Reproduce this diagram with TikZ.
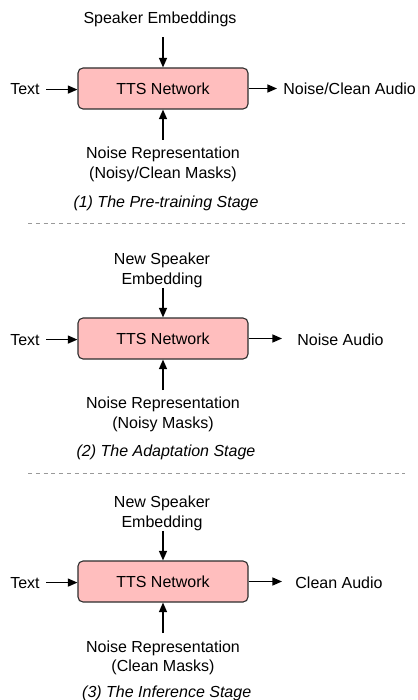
\documentclass[tikz,border=0pt]{standalone}
\usepackage{fontspec}
\setmainfont{Liberation Sans}
\usetikzlibrary{arrows.meta,calc}
\definecolor{netfill}{RGB}{255,190,190}
\definecolor{netdraw}{RGB}{45,45,45}

\begin{document}
\begin{tikzpicture}[
  x=0.5pt,y=-0.5pt,
  font=\fontsize{8}{9.75}\selectfont,
  net/.style={draw=netdraw,fill=netfill,rounded corners=2.5pt,line width=0.55pt,
    minimum width=85pt,minimum height=20.5pt,inner sep=0pt},
  lbl/.style={inner sep=0pt,align=center},
  stagecap/.style={inner sep=0pt,font=\fontsize{8}{9.75}\selectfont\itshape},
  sig/.style={-{Triangle[length=4.8pt,width=4pt]},line width=0.7pt},
  sep/.style={draw=black!40,dash pattern=on 2pt off 1.9pt,line width=0.5pt},
]
\useasboundingbox (0,0) rectangle (417,700);

%% (1) pre-training
\node[net] (net1) at (163,88.5) {TTS Network};
\node[lbl,anchor=base] (spk1) at (160,23.3) {Speaker Embeddings};
\node[lbl,anchor=base east] (txt1) at (40,95) {Text};
\node[lbl,anchor=base west] (out1) at (283,95) {Noise/Clean Audio};
\node[lbl,anchor=north] (noise1) at (163,147) {Noise Representation\\(Noisy/Clean Masks)};
\node[stagecap,anchor=base] (cap1) at (166,207.6) {(1) The Pre-training Stage};
\draw[sig,shorten <=5.2pt] (spk1.south -| net1.north) -- (net1.north);
\draw[sig,shorten <=3pt] (txt1.east) -- (txt1.east -| net1.west);
\draw[sig,shorten >=3pt] (net1.east) -- (net1.east -| out1.west);
\draw[sig,shorten <=3.5pt] (noise1.north -| net1.south) -- (net1.south);
\draw[sep] (28,223) -- (405,223);

%% (2) adaptation
\node[net] (net2) at (163,338.5) {TTS Network};
\node[lbl,anchor=north] (spk2) at (162,252.7) {New Speaker\\Embedding};
\node[lbl,anchor=base east] (txt2) at (40,345) {Text};
\node[lbl,anchor=base west] (out2) at (297,345) {Noise Audio};
\node[lbl,anchor=north] (noise2) at (163,397) {Noise Representation\\(Noisy Masks)};
\node[stagecap,anchor=base] (cap2) at (166,456.7) {(2) The Adaptation Stage};
\draw[sig] (spk2.south -| net2.north) -- (net2.north);
\draw[sig,shorten <=3pt] (txt2.east) -- (txt2.east -| net2.west);
\draw[sig,shorten >=7.5pt] (net2.east) -- (net2.east -| out2.west);
\draw[sig,shorten <=3.5pt] (noise2.north -| net2.south) -- (net2.south);
\draw[sep] (28,473) -- (405,473);

%% (3) inference
\node[net] (net3) at (163,581.5) {TTS Network};
\node[lbl,anchor=north] (spk3) at (162,495.7) {New Speaker\\Embedding};
\node[lbl,anchor=base east] (txt3) at (40,588) {Text};
\node[lbl,anchor=base west] (out3) at (295,588) {Clean Audio};
\node[lbl,anchor=north] (noise3) at (163,640) {Noise Representation\\(Clean Masks)};
\node[stagecap,anchor=base] (cap3) at (166.7,697.5) {(3) The Inference Stage};
\draw[sig] (spk3.south -| net3.north) -- (net3.north);
\draw[sig,shorten <=3pt] (txt3.east) -- (txt3.east -| net3.west);
\draw[sig,shorten >=6.5pt] (net3.east) -- (net3.east -| out3.west);
\draw[sig,shorten <=3.5pt] (noise3.north -| net3.south) -- (net3.south);
\end{tikzpicture}
\end{document}
